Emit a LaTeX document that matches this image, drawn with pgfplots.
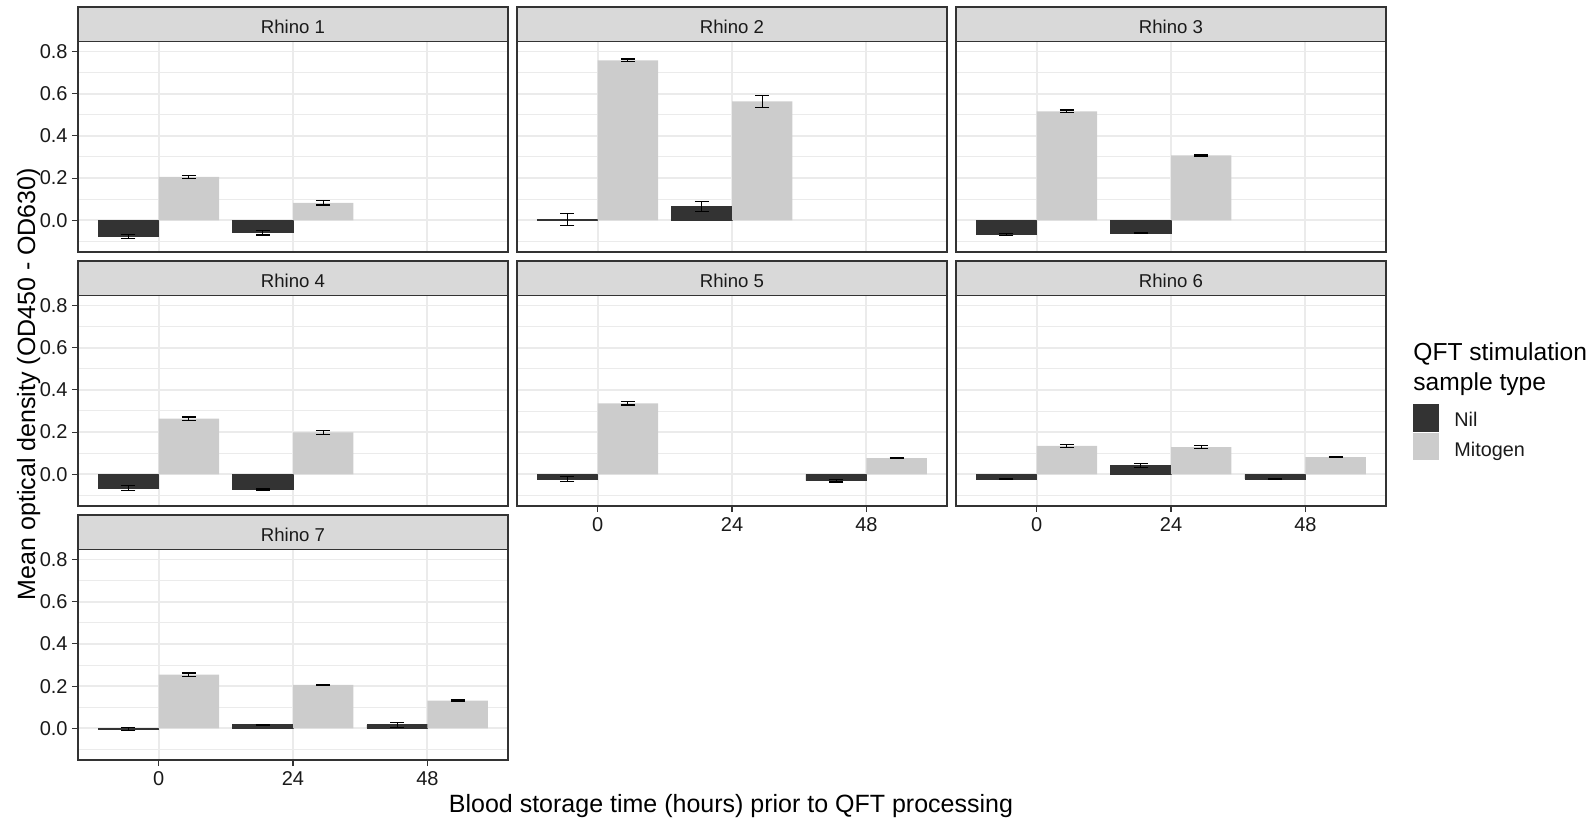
\documentclass[border=0pt]{standalone}
\usepackage{fontspec}
\setmainfont{Liberation Sans}
\usepackage{pgfplots}
\pgfplotsset{compat=1.18}
\definecolor{nilc}{HTML}{333333}
\definecolor{mitc}{HTML}{CCCCCC}
\definecolor{gridc}{HTML}{EBEBEB}
\definecolor{stripc}{HTML}{D9D9D9}
\definecolor{borderc}{HTML}{333333}
\definecolor{tickc}{HTML}{333333}
\definecolor{textc}{HTML}{1A1A1A}
\pgfplotsset{
  panel/.style={
    scale only axis, width=215pt, height=105.25pt, anchor=south west,
    xmin=-0.6, xmax=2.6, ymin=-0.15, ymax=0.847,
    xtick={0,1,2}, xticklabels={0,24,48},
    ytick={0,0.2,0.4,0.6,0.8}, minor ytick={-0.1,0.1,0.3,0.5,0.7},
    xmajorgrids=true, ymajorgrids=true, yminorgrids=true,
    major grid style={gridc, line width=0.9pt},
    minor grid style={gridc, line width=0.5pt},
    axis line style={borderc, line width=0.6pt},
    tick align=outside, xtick pos=bottom, ytick pos=left,
    major tick length=3pt, minor tick length=0pt,
    tick style={tickc, line width=0.6pt},
    xticklabel style={font=\fontsize{10}{12}\selectfont, text=textc, inner sep=0pt, anchor=north, yshift=-2.5pt},
    yticklabel style={font=\fontsize{10}{12}\selectfont, text=textc, inner sep=0pt, anchor=east, xshift=-2pt},
    /pgf/number format/fixed, /pgf/number format/fixed zerofill, /pgf/number format/precision=1,
    /pgf/number format/assume math mode=true,
    clip=false,
  },
  inner/.style={ymajorticks=false, yticklabels={}},
  noxlab/.style={xmajorticks=false, xticklabels={}},
  errs/.style={error bars/y dir=both, error bars/y explicit,
    error bars/error bar style={black, line width=0.6pt},
    error bars/error mark options={black, rotate=90, mark size=3.5pt, line width=0.6pt}},
  nilbar/.style={ybar, bar width=0.45, bar shift=0, fill=nilc, draw=nilc, line width=0.3pt, errs},
  mitbar/.style={ybar, bar width=0.45, bar shift=0, fill=mitc, draw=none, errs},
}
\newcommand{\strip}[1]{%
  \draw[draw=borderc, fill=stripc, line width=0.6pt] (rel axis cs:0,1) rectangle (rel axis cs:1,1.1639);
  \node[anchor=base, yshift=3.9pt, font=\fontsize{9.3}{11}\selectfont, text=textc] at (rel axis cs:0.5,1) {#1};}
\begin{document}
\begin{tikzpicture}
\path[use as bounding box] (0,0) rectangle (793pt,-409.5pt);
% Bars: Nil at category-0.225, Mitogen at category+0.225 (categories 0h,24h,48h at 0,1,2)
% Rhino 1
\begin{axis}[panel, noxlab, at={(39pt,-126pt)}]
\addplot[nilbar] coordinates {(-0.225,-0.076) +- (0,0.010) (0.775,-0.059) +- (0,0.010)};
\addplot[mitbar] coordinates {(0.225,0.206) +- (0,0.008) (1.225,0.083) +- (0,0.010)};
\strip{Rhino 1}
\end{axis}
% Rhino 2
\begin{axis}[panel, inner, noxlab, at={(258.5pt,-126pt)}]
\addplot[nilbar] coordinates {(-0.225,0.003) +- (0,0.028) (0.775,0.065) +- (0,0.025)};
\addplot[mitbar] coordinates {(0.225,0.758) +- (0,0.006) (1.225,0.563) +- (0,0.030)};
\strip{Rhino 2}
\end{axis}
% Rhino 3
\begin{axis}[panel, inner, noxlab, at={(478pt,-126pt)}]
\addplot[nilbar] coordinates {(-0.225,-0.066) +- (0,0.005) (0.775,-0.060) +- (0,0.003)};
\addplot[mitbar] coordinates {(0.225,0.516) +- (0,0.007) (1.225,0.308) +- (0,0.003)};
\strip{Rhino 3}
\end{axis}
% Rhino 4
\begin{axis}[panel, noxlab, at={(39pt,-253pt)}]
\addplot[nilbar] coordinates {(-0.225,-0.064) +- (0,0.013) (0.775,-0.070) +- (0,0.004)};
\addplot[mitbar] coordinates {(0.225,0.264) +- (0,0.008) (1.225,0.199) +- (0,0.010)};
\strip{Rhino 4}
\end{axis}
% Rhino 5
\begin{axis}[panel, inner, at={(258.5pt,-253pt)}]
\addplot[nilbar] coordinates {(-0.225,-0.022) +- (0,0.013) (1.775,-0.030) +- (0,0.006)};
\addplot[mitbar] coordinates {(0.225,0.336) +- (0,0.008) (2.225,0.077) +- (0,0.002)};
\strip{Rhino 5}
\end{axis}
% Rhino 6
\begin{axis}[panel, inner, at={(478pt,-253pt)}]
\addplot[nilbar] coordinates {(-0.225,-0.022) +- (0,0.003) (0.775,0.041) +- (0,0.010) (1.775,-0.022) +- (0,0.004)};
\addplot[mitbar] coordinates {(0.225,0.135) +- (0,0.008) (1.225,0.129) +- (0,0.008) (2.225,0.082) +- (0,0.002)};
\strip{Rhino 6}
\end{axis}
% Rhino 7
\begin{axis}[panel, at={(39pt,-380pt)}]
\addplot[nilbar] coordinates {(-0.225,-0.004) +- (0,0.007) (0.775,0.017) +- (0,0.003) (1.775,0.017) +- (0,0.012)};
\addplot[mitbar] coordinates {(0.225,0.254) +- (0,0.008) (1.225,0.206) +- (0,0.003) (2.225,0.131) +- (0,0.003)};
\strip{Rhino 7}
\end{axis}
% axis titles
\node[rotate=90, anchor=base, font=\fontsize{12.5}{15}\selectfont, text=black] at (17.5pt,-192pt) {Mean optical density (OD450 - OD630)};
\node[anchor=base, font=\fontsize{12.5}{15}\selectfont, text=black] at (365.5pt,-406pt) {Blood storage time (hours) prior to QFT processing};
% legend
\node[anchor=base west, inner sep=0pt, font=\fontsize{12.3}{15}\selectfont] at (706.5pt,-180pt) {QFT stimulation};
\node[anchor=base west, inner sep=0pt, font=\fontsize{12.3}{15}\selectfont] at (706.5pt,-195pt) {sample type};
\fill[nilc] (706.5pt,-202pt) rectangle (719.5pt,-215.8pt);
\fill[mitc] (706.5pt,-216.6pt) rectangle (719.5pt,-230pt);
\node[anchor=base west, inner sep=0pt, font=\fontsize{9.9}{12}\selectfont, text=textc] at (727pt,-213.3pt) {Nil};
\node[anchor=base west, inner sep=0pt, font=\fontsize{9.9}{12}\selectfont, text=textc] at (727pt,-228.3pt) {Mitogen};
\end{tikzpicture}
\end{document}
